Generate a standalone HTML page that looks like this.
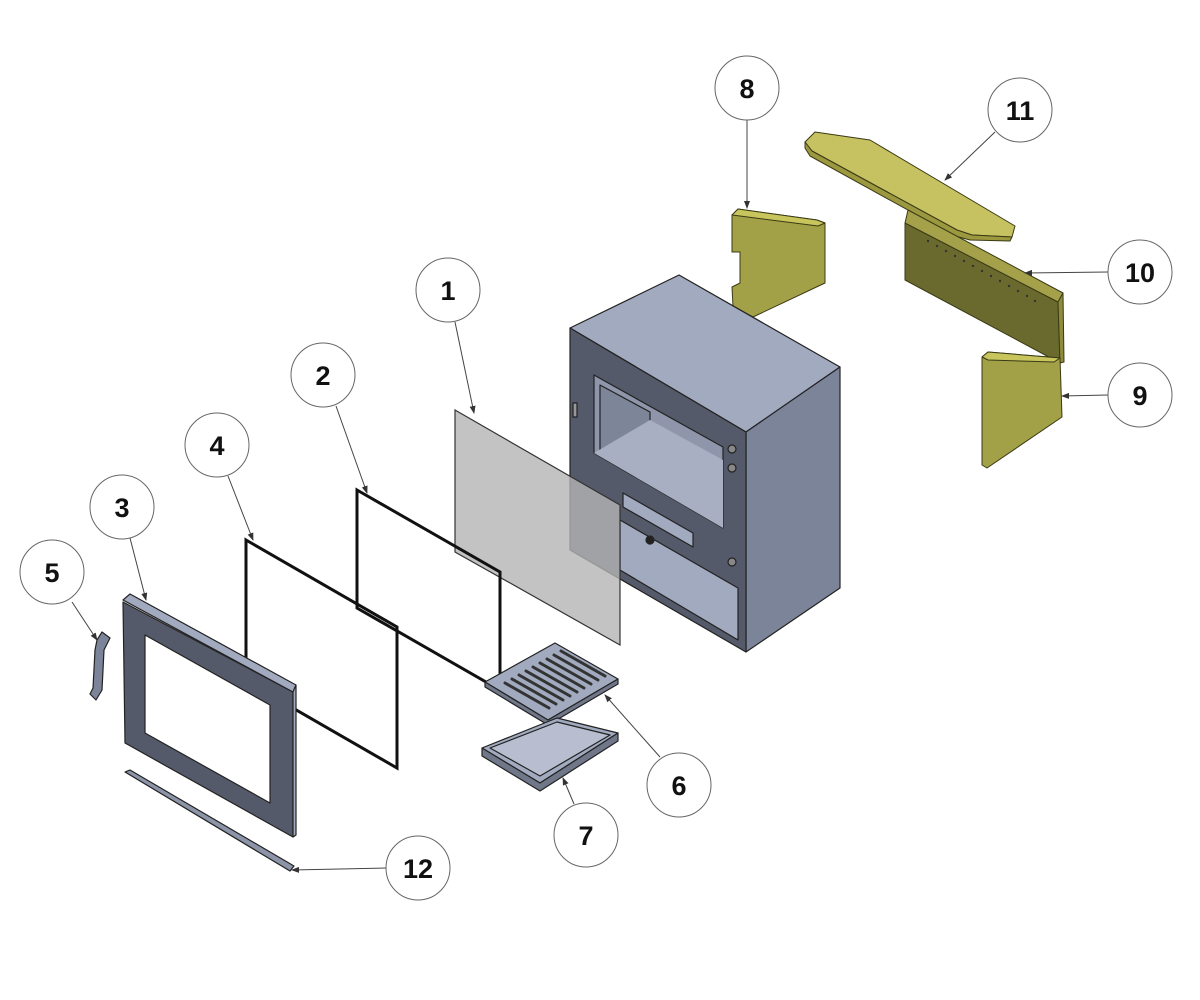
<!DOCTYPE html>
<html><head><style>body{margin:0;background:#fff}svg{display:block}</style></head><body>
<svg width="1200" height="1000" viewBox="0 0 1200 1000" xmlns="http://www.w3.org/2000/svg" font-family="Liberation Sans, sans-serif">
<defs><marker id="a" markerWidth="8" markerHeight="8" refX="7" refY="4" orient="auto" markerUnits="userSpaceOnUse"><path d="M0,1 L8,4 L0,7z" fill="#333"/></marker></defs>
<!-- bricks -->
<g stroke="#3a3a15" stroke-width="1" stroke-linejoin="round">
<polygon points="738,209 817,220 825,223 825,283 753,317 733,307 732,287 740,283 740,252 732,252 732,215" fill="#a3a147"/>
<polygon points="732,215 738,209 817,220 825,223 818,226 740,216" fill="#c8c55c"/>
<polygon points="805,142 815,132 870,140 1015,226 1012,237 972,235 957,230 812,151" fill="#c6c261"/>
<polygon points="812,151 957,230 972,235 1012,237 1010,241 970,240 955,236 810,156 805,148 805,142" fill="#9c9840"/>
<polygon points="905,223 1058,302 1060,363 905,280" fill="#6b6a2e"/>
<polygon points="905,223 908,210 1063,293 1058,302" fill="#a4a14a"/>
<polygon points="1058,302 1063,293 1064,362 1060,363" fill="#8e8c3c"/>
<polygon points="982,357 988,352 1060,358 1062,417 987,468 982,465" fill="#a3a147"/>
<polygon points="982,357 988,352 1060,358 1054,362 988,360" fill="#c8c55c"/>
</g>
<g fill="#333"><circle cx="928" cy="241" r="1.2"/><circle cx="937" cy="246" r="1.2"/><circle cx="946" cy="251" r="1.2"/><circle cx="955" cy="256" r="1.2"/><circle cx="964" cy="261" r="1.2"/><circle cx="973" cy="266" r="1.2"/><circle cx="982" cy="271" r="1.2"/><circle cx="991" cy="276" r="1.2"/><circle cx="1000" cy="281" r="1.2"/><circle cx="1009" cy="286" r="1.2"/><circle cx="1018" cy="291" r="1.2"/><circle cx="1027" cy="296" r="1.2"/><circle cx="1035" cy="301" r="1.2"/></g>
<!-- stove body -->
<g stroke="#222" stroke-width="1.2" stroke-linejoin="round">
<polygon points="570,328 679,275 840,367 746,432" fill="#a2aabf"/>
<polygon points="746,432 840,367 840,588 746,652" fill="#7b8499"/>
<polygon points="570,328 746,432 746,652 570,550" fill="#555a6a"/>
<polygon points="594,375 723,447 723,528 594,453" fill="#8f96ab"/>
<polygon points="600,385 650,412 650,480 600,452" fill="#7d8599"/>
<polygon points="594,453 650,420 723,460 723,528" fill="#a8afc2" stroke="none"/>
<polygon points="620,520 738,588 738,640 620,570" fill="#a2aabf"/>
<polygon points="623,493 693,533 693,547 623,507" fill="#a2aabf"/>
<circle cx="732" cy="449" r="4" fill="#888"/><circle cx="732" cy="468" r="4" fill="#888"/><circle cx="732" cy="562" r="4" fill="#888"/><circle cx="650" cy="540" r="4" fill="#222"/>
<rect x="573" y="403" width="4" height="14" fill="#999"/>
</g>
<!-- glass -->
<polygon points="455,410 620,505 620,645 455,552" fill="#b4b4b4" fill-opacity="0.8" stroke="#333" stroke-width="1.2"/>
<!-- seals -->
<polygon points="357,490 500,572 500,690 357,608" fill="none" stroke="#111" stroke-width="3"/>
<polygon points="246,540 397,627 397,768 246,681" fill="none" stroke="#111" stroke-width="3"/>
<!-- grate -->
<g stroke="#222" stroke-width="1.2" stroke-linejoin="round">
<polygon points="485,682 555,643 618,679 548,720" fill="#a2aabf"/>
<polygon points="485,682 548,720 618,679 618,684 548,725 485,687" fill="#6f7789"/>
<polygon points="482,748 557,718 618,733 540,783" fill="#a2aabf"/>
<polygon points="490,748 557,722 610,735 540,776" fill="#b8bed0"/>
<polygon points="482,748 540,783 618,733 618,741 540,791 482,756" fill="#6f7789"/>
</g>
<g stroke="#333" stroke-width="3" stroke-linecap="round">
<line x1="505" y1="683" x2="549" y2="708"/><line x1="512" y1="679" x2="556" y2="704"/><line x1="519" y1="675" x2="563" y2="700"/><line x1="526" y1="671" x2="570" y2="696"/><line x1="533" y1="667" x2="577" y2="692"/><line x1="540" y1="663" x2="584" y2="688"/><line x1="547" y1="659" x2="591" y2="684"/><line x1="554" y1="655" x2="598" y2="680"/><line x1="561" y1="651" x2="605" y2="676"/>
</g>
<!-- frame 3 -->
<g stroke="#222" stroke-width="1.2" stroke-linejoin="round">
<path d="M123,602 L293,692 L293,837 L125,743Z M145,635 L145,733 L270,803 L270,705Z" fill="#555a6a" fill-rule="evenodd"/>
<polygon points="123,600 130,594 296,685 293,692" fill="#a2aabf"/>
<polygon points="293,692 296,685 296,835 293,837" fill="#a2aabf"/>
<polygon points="125,772 130,770 294,866 290,871" fill="#8c94a8"/>
<path d="M97,640 L102,632 L110,638 L104,650 L102,690 L96,700 L90,694 L93,688 L95,650Z" fill="#7b8499"/>
</g>
<!-- leaders -->
<g stroke="#444" stroke-width="1" marker-end="url(#a)">
<line x1="747" y1="120" x2="747" y2="208"/>
<line x1="995" y1="132" x2="945" y2="180"/>
<line x1="455" y1="322" x2="474" y2="413"/>
<line x1="1108" y1="272" x2="1025" y2="273"/>
<line x1="336" y1="406" x2="367" y2="493"/>
<line x1="1108" y1="395" x2="1062" y2="396"/>
<line x1="228" y1="476" x2="253" y2="540"/>
<line x1="130" y1="538" x2="146" y2="600"/>
<line x1="72" y1="602" x2="97" y2="640"/>
<line x1="660" y1="757" x2="605" y2="695"/>
<line x1="574" y1="804" x2="563" y2="778"/>
<line x1="386" y1="868" x2="292" y2="870"/>
</g>
<g fill="#fff" stroke="#666" stroke-width="1">
<circle cx="747" cy="88" r="32"/><circle cx="1020" cy="110" r="32"/><circle cx="448" cy="290" r="32"/><circle cx="1140" cy="272" r="32"/><circle cx="323" cy="375" r="32"/><circle cx="1140" cy="395" r="32"/><circle cx="217" cy="445" r="32"/><circle cx="122" cy="507" r="32"/><circle cx="52" cy="572" r="32"/><circle cx="679" cy="785" r="32"/><circle cx="586" cy="835" r="32"/><circle cx="418" cy="868" r="32"/>
</g>
<g font-size="27" font-weight="bold" text-anchor="middle" fill="#111">
<text x="747" y="98">8</text><text x="1020" y="120">11</text><text x="448" y="300">1</text><text x="1140" y="282">10</text><text x="323" y="385">2</text><text x="1140" y="405">9</text><text x="217" y="455">4</text><text x="122" y="517">3</text><text x="52" y="582">5</text><text x="679" y="795">6</text><text x="586" y="845">7</text><text x="418" y="878">12</text>
</g>
</svg>
</body></html>
